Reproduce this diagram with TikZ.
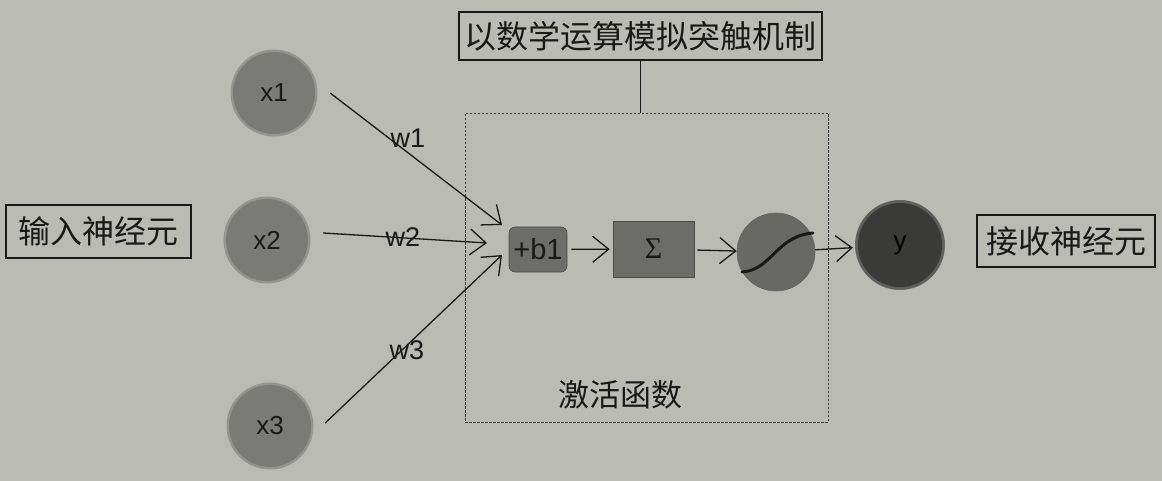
\documentclass[tikz,border=0pt]{standalone}
\usepackage{fontspec}
\setmainfont{Liberation Sans}
\newfontfamily\cjk{Noto Sans CJK SC}
\newfontfamily\sergr{Liberation Serif}
\usetikzlibrary{arrows.meta}
\definecolor{paper}{RGB}{187,187,182}
\definecolor{ngray}{RGB}{122,122,119}
\definecolor{bgray}{RGB}{108,108,105}
\definecolor{sgray}{RGB}{104,104,101}
\definecolor{ydark}{RGB}{58,58,57}
\definecolor{ink}{RGB}{25,25,25}
\tikzset{
  frame/.style={draw=ink, line width=1.6pt, inner sep=0pt, font=\cjk\fontsize{32}{36}\selectfont, text=ink},
  neuron/.style={circle, fill=ngray, minimum size=82pt, inner sep=0pt, text=ink,
    font=\fontsize{26}{30}\selectfont,
    preaction={draw=ngray, line width=5pt, draw opacity=0.6}},
  outneuron/.style={neuron, fill=ydark, minimum size=84pt, text=black,
    preaction={draw=ydark, line width=6pt, draw opacity=0.6}},
  gbox/.style={draw=black!70, line width=0.6pt, fill=bgray, inner sep=0pt, text=ink},
  arr/.style={draw=ink, line width=1.3pt, -{Straight Barb[length=16pt,width=26pt,line width=1.3pt]}},
  wlbl/.style={text=ink, font=\fontsize{27}{30}\selectfont, inner sep=0pt},
}
\begin{document}
\begin{tikzpicture}[x=1pt,y=-1pt]
\fill[paper] (0,0) rectangle (1162,481);
\useasboundingbox (0,0) rectangle (1162,481);

% frames
\node[frame, minimum width=363pt, minimum height=48pt] (top) at (640.5,36) {以数学运算模拟突触机制};
\node[draw=black!75, line width=0.8pt, dash pattern=on 2.5pt off 1.5pt, minimum width=363pt, minimum height=309pt, inner sep=0pt] (act) at (646.5,267.5) {};
\draw[draw=ink, line width=1.6pt] (top.south) -- (top.south |- act.north);
\node[frame, minimum width=185pt, minimum height=53pt, line width=1.4pt] (inlbl) at (98.5,231.5) {输入神经元};
\node[frame, minimum width=178pt, minimum height=52pt, line width=1.4pt] (outlbl) at (1066,241) {接收神经元};
\node[text=ink, font=\cjk\fontsize{31}{34}\selectfont, inner sep=0pt] (actlbl) at (620,395) {激活函数};

% input neurons
\node[neuron] (x1) at (274,93) {x1};
\node[neuron] (x2) at (267,240) {x2};
\node[neuron] (x3) at (270,426) {x3};

% inner chain
\node[gbox, rounded corners=6pt, minimum width=58pt, minimum height=45pt, font=\fontsize{29}{30}\selectfont] (b1) at (538,249.5) {+b1};
\node[gbox, minimum width=81pt, minimum height=56pt, font=\sergr\fontsize{30}{32}\selectfont, text=black!90] (sum) at (653.5,249) {Σ};
\node[circle, fill=sgray, draw=black!60, line width=0.6pt, minimum size=78pt, inner sep=0pt] (sig) at (776,252) {};
\draw[ink, line width=3pt, line cap=round] ([shift={(-34,20)}]sig.center) .. controls ([shift={(-4,18)}]sig.center) and ([shift={(0,-16)}]sig.center) .. ([shift={(37,-19)}]sig.center);

% output neuron
\node[outneuron] (y) at (900,245) {y};

% input connectors
\coordinate (e1) at (502,225);
\coordinate (e2) at (487,243);
\coordinate (e3) at (502,255);
\draw[arr] ([xshift=15pt]x1.east) -- (e1);
\draw[arr] ([shift={(15,-7)}]x2.east) -- (e2);
\draw[arr] ([shift={(14,-3)}]x3.east) -- (e3);
\node[wlbl] (w1) at (408,138) {w1};
\node[wlbl] (w2) at (403,237) {w2};
\node[wlbl] (w3) at (407,350) {w3};

% chain connectors
\draw[arr, shorten <=4pt, shorten >=3pt] (b1) -- (sum);
\draw[arr, shorten <=3pt] (sum) -- (sig);
\draw[arr, shorten >=5pt] (sig) -- (y);
\end{tikzpicture}
\end{document}
